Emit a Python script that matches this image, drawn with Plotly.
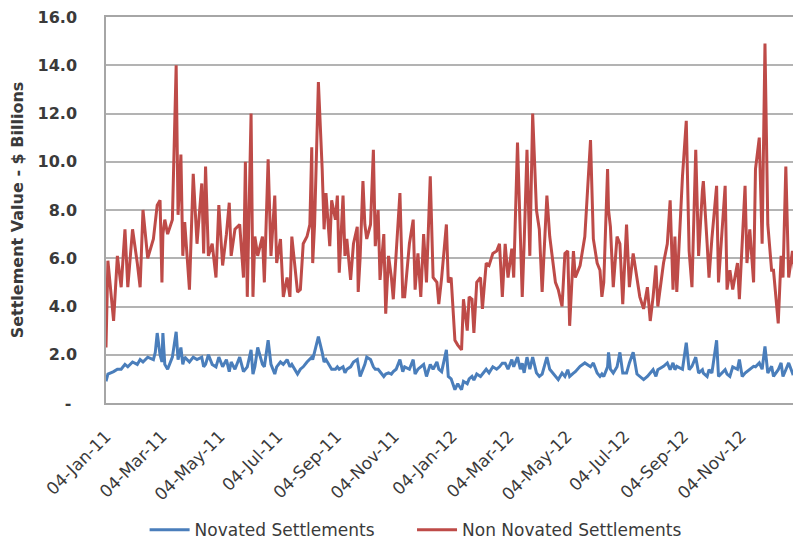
import plotly.graph_objects as go

dates = [
    "2011-01-04", "2011-01-06", "2011-01-12", "2011-01-16", "2011-01-20", "2011-01-24", "2011-01-27",
    "2011-02-01", "2011-02-06", "2011-02-09", "2011-02-12", "2011-02-17", "2011-02-23", "2011-02-25", "2011-02-27",
    "2011-03-02", "2011-03-04", "2011-03-05", "2011-03-07", "2011-03-10", "2011-03-15", "2011-03-19", "2011-03-21",
    "2011-03-24", "2011-03-26", "2011-03-28",
    "2011-04-02", "2011-04-06", "2011-04-10", "2011-04-15", "2011-04-17", "2011-04-19", "2011-04-22", "2011-04-26", "2011-04-30",
    "2011-05-03", "2011-05-07", "2011-05-11", "2011-05-14", "2011-05-16", "2011-05-20", "2011-05-25", "2011-05-29", "2011-05-31",
    "2011-06-02", "2011-06-06", "2011-06-08", "2011-06-10", "2011-06-13", "2011-06-18", "2011-06-20", "2011-06-24", "2011-06-27",
    "2011-07-01", "2011-07-03", "2011-07-07", "2011-07-10", "2011-07-14", "2011-07-17", "2011-07-19", "2011-07-25", "2011-07-28", "2011-07-31",
    "2011-08-04", "2011-08-07", "2011-08-09", "2011-08-10", "2011-08-12", "2011-08-16", "2011-08-20", "2011-08-22", "2011-08-24", "2011-08-28", "2011-08-30",
    "2011-09-03", "2011-09-05", "2011-09-07", "2011-09-11", "2011-09-13", "2011-09-15", "2011-09-19", "2011-09-22", "2011-09-26", "2011-09-27", "2011-09-29",
    "2011-10-02", "2011-10-04", "2011-10-06", "2011-10-10", "2011-10-13", "2011-10-15", "2011-10-18", "2011-10-20", "2011-10-24", "2011-10-26", "2011-10-29",
    "2011-11-01", "2011-11-03", "2011-11-06", "2011-11-10", "2011-11-13", "2011-11-15", "2011-11-20", "2011-11-24", "2011-11-26", "2011-11-29",
    "2011-12-02", "2011-12-05", "2011-12-08", "2011-12-12", "2011-12-15", "2011-12-19", "2011-12-21", "2011-12-24", "2011-12-29", "2011-12-31",
    "2012-01-03", "2012-01-07", "2012-01-10", "2012-01-14", "2012-01-16", "2012-01-20", "2012-01-22", "2012-01-25", "2012-01-27", "2012-01-30",
    "2012-02-03", "2012-02-05", "2012-02-09", "2012-02-12", "2012-02-16", "2012-02-20", "2012-02-23", "2012-02-26", "2012-02-29",
    "2012-03-03", "2012-03-07", "2012-03-09", "2012-03-13", "2012-03-16", "2012-03-18", "2012-03-20", "2012-03-23", "2012-03-26", "2012-03-29",
    "2012-04-02", "2012-04-05", "2012-04-08", "2012-04-13", "2012-04-16", "2012-04-22", "2012-04-25", "2012-04-29",
    "2012-05-02", "2012-05-05", "2012-05-07", "2012-05-11", "2012-05-13", "2012-05-18", "2012-05-23", "2012-05-29",
    "2012-06-01", "2012-06-05", "2012-06-08", "2012-06-10", "2012-06-12", "2012-06-16", "2012-06-17", "2012-06-19", "2012-06-22", "2012-06-26", "2012-06-29",
    "2012-07-02", "2012-07-06", "2012-07-09", "2012-07-13", "2012-07-17", "2012-07-20", "2012-07-24", "2012-07-28", "2012-07-31",
    "2012-08-03", "2012-08-06", "2012-08-08", "2012-08-14", "2012-08-18", "2012-08-21", "2012-08-24", "2012-08-26", "2012-08-28",
    "2012-09-03", "2012-09-07", "2012-09-10", "2012-09-13", "2012-09-17", "2012-09-20", "2012-09-24", "2012-09-25", "2012-09-29",
    "2012-10-01", "2012-10-04", "2012-10-09", "2012-10-11", "2012-10-14", "2012-10-18", "2012-10-20", "2012-10-23", "2012-10-26", "2012-10-31",
    "2012-11-02", "2012-11-05", "2012-11-08", "2012-11-10", "2012-11-13", "2012-11-17", "2012-11-19", "2012-11-23", "2012-11-26", "2012-11-29",
    "2012-12-02", "2012-12-06", "2012-12-08", "2012-12-13", "2012-12-16", "2012-12-18", "2012-12-21", "2012-12-24", "2012-12-28", "2012-12-31",
    "2013-01-02", "2013-01-05",
]

non_novated = [
    2.3, 5.9, 3.4, 6.1, 4.8, 7.2, 4.8,
    7.2, 5.8, 4.8, 8.0, 6.0, 6.8, 7.6, 8.2,
    8.4, 5.0, 7.0, 7.6, 7.0, 7.6, 14.0, 7.8,
    10.3, 6.1, 7.5,
    4.7, 9.5, 6.6, 9.1, 6.2, 9.8, 6.1, 6.6, 5.2,
    8.2, 5.7, 7.0, 8.3, 6.1, 7.2, 7.4, 5.2, 10.0,
    4.4, 12.0, 4.4, 6.9, 6.1, 6.9, 5.0, 10.1, 6.1,
    8.6, 5.8, 6.8, 4.4, 5.2, 4.4, 6.9, 4.6, 4.7, 6.6,
    6.9, 7.4, 10.6, 5.8, 7.4, 13.3, 9.7, 7.2, 8.7, 6.5, 8.4,
    7.6, 8.6, 5.4, 8.6, 6.1, 6.8, 5.1, 6.6, 7.3, 4.6, 6.0,
    9.2, 7.4, 6.8, 7.4, 10.5, 6.5, 8.0, 5.1, 7.0, 3.7, 6.1,
    5.2, 4.3, 6.1, 8.7, 4.4, 4.4, 6.6, 7.6, 4.7, 6.2,
    4.4, 7.0, 5.0, 9.4, 5.2, 5.0, 4.1, 5.2, 7.4, 5.0,
    5.2, 2.6, 2.4, 2.2, 4.3, 3.0, 4.4, 4.3, 2.9, 5.0,
    5.2, 3.9, 5.8, 5.7, 6.2, 6.3, 6.6, 4.4, 6.6,
    5.2, 6.4, 5.2, 10.8, 6.5, 4.4, 6.6, 10.5, 6.1, 12.0,
    8.0, 7.2, 4.6, 8.6, 6.9, 5.0, 4.7, 4.0,
    6.2, 6.3, 3.2, 6.3, 5.2, 5.7, 6.9, 10.9,
    6.8, 5.8, 5.5, 4.4, 5.0, 9.7, 8.0, 7.3, 4.8, 6.9, 6.6,
    4.1, 7.4, 4.8, 6.2, 5.2, 4.4, 3.9, 4.8, 3.4,
    4.4, 5.7, 4.0, 5.8, 6.6, 8.4, 4.7, 6.9, 4.6,
    9.4, 11.7, 6.3, 4.8, 10.5, 6.1, 8.8, 9.2, 6.6,
    5.2, 6.8, 9.0, 5.0, 6.6, 9.0, 4.7, 5.5, 4.7, 5.8,
    4.3, 6.6, 9.0, 5.8, 7.2, 5.0, 9.7, 11.0, 6.6, 14.9,
    7.4, 5.5, 5.5, 3.3, 6.1, 5.2, 9.8, 5.2, 6.3, 5.2,
    7.7, 6.6,
]

novated = [
    0.9, 1.2, 1.3, 1.4, 1.4, 1.6, 1.5,
    1.7, 1.6, 1.8, 1.7, 1.9, 1.8, 2.1, 2.9,
    2.0, 1.7, 2.9, 1.6, 1.4, 1.9, 2.95, 1.8,
    2.3, 1.6, 1.9,
    1.7, 1.9, 1.8, 1.9, 1.5, 1.6, 2.0, 1.6, 1.5,
    1.9, 1.5, 1.8, 1.3, 1.7, 1.4, 1.9, 1.3, 1.4,
    1.5, 2.2, 1.2, 1.5, 2.3, 1.6, 1.5, 2.6, 1.6,
    1.2, 1.5, 1.7, 1.6, 1.8, 1.5, 1.6, 1.2, 1.4, 1.5,
    1.7, 1.8, 1.9, 1.8, 2.1, 2.75, 2.1, 1.7, 1.8, 1.5, 1.4,
    1.4, 1.5, 1.4, 1.5, 1.25, 1.4, 1.5, 1.7, 1.8, 1.5, 1.1,
    1.4, 1.6, 1.9, 1.8, 1.5, 1.4, 1.4, 1.3, 1.1, 1.2, 1.25,
    1.2, 1.3, 1.4, 1.8, 1.3, 1.5, 1.4, 1.8, 1.2, 1.4,
    1.5, 1.6, 1.1, 1.6, 1.4, 1.7, 1.4, 1.3, 2.2, 1.1,
    1.0, 0.55, 0.8, 0.55, 0.9, 0.8, 1.0, 1.1, 0.95, 1.2,
    1.1, 1.2, 1.4, 1.25, 1.5, 1.4, 1.5, 1.65, 1.65,
    1.4, 1.8, 1.5, 1.9, 1.4, 1.65, 1.25, 1.9, 1.4, 1.9,
    1.25, 1.1, 1.2, 1.9, 1.4, 1.1, 0.97, 1.24,
    1.1, 1.38, 1.1, 1.24, 1.3, 1.52, 1.66, 1.5,
    1.66, 1.24, 1.1, 1.2, 1.1, 1.5, 2.1, 1.4, 1.24, 1.5, 2.1,
    1.24, 1.24, 1.66, 2.1, 1.2, 1.1, 0.97, 1.1, 1.24,
    1.38, 1.1, 1.38, 1.52, 1.66, 1.38, 1.66, 1.38, 1.52,
    1.4, 2.5, 1.38, 1.52, 1.9, 1.24, 1.38, 1.24, 1.1,
    1.38, 1.24, 2.6, 1.1, 1.24, 1.38, 1.2, 1.1, 1.5, 1.4,
    1.8, 1.1, 1.24, 1.3, 1.38, 1.52, 1.5, 1.66, 1.4, 2.35,
    1.24, 1.52, 1.1, 1.38, 1.66, 1.1, 1.38, 1.66, 1.24, 1.38,
    1.3, 1.4,
]

x_tick_dates = ["2011-01-04", "2011-03-04", "2011-05-04", "2011-07-04", "2011-09-04", "2011-11-04",
                "2012-01-04", "2012-03-04", "2012-05-04", "2012-07-04", "2012-09-04", "2012-11-04"]
x_tick_labels = ["04-Jan-11", "04-Mar-11", "04-May-11", "04-Jul-11", "04-Sep-11", "04-Nov-11",
                 "04-Jan-12", "04-Mar-12", "04-May-12", "04-Jul-12", "04-Sep-12", "04-Nov-12"]
y_tick_vals = [0, 2, 4, 6, 8, 10, 12, 14, 16]
y_tick_labels = ["-\u00a0", "2.0", "4.0", "6.0", "8.0", "10.0", "12.0", "14.0", "16.0"]
series_names = ["Novated Settlements", "Non Novated Settlements"]

FONT = "DejaVu Sans"
TEXT = "#3a3a3a"
fig = go.Figure()
fig.add_trace(go.Scatter(x=dates, y=novated, mode="lines",
                         name=series_names[0] + "\u00a0" * 6,
                         line=dict(color="#4a7ebb", width=3)))
fig.add_trace(go.Scatter(x=dates, y=non_novated, mode="lines", name=series_names[1],
                         line=dict(color="#be4b48", width=3)))

fig.update_layout(
    width=793, height=534,
    margin=dict(l=98, r=0, t=9, b=139),
    paper_bgcolor="white", plot_bgcolor="white",
    font=dict(family=FONT, color=TEXT),
    showlegend=True,
    legend=dict(orientation="h", xref="container", yref="container", x=0.514, y=0.022,
                xanchor="center", yanchor="middle", font=dict(size=17, color=TEXT),
                itemwidth=40, tracegroupgap=0),
    xaxis=dict(
        type="date", range=["2011-01-04", "2013-01-06"], automargin=False,
        tickvals=x_tick_dates, ticktext=x_tick_labels, tickangle=-45,
        tickfont=dict(size=17, color=TEXT),
        showgrid=False, zeroline=False,
        showline=True, linecolor="#a6a6a6", linewidth=1.5, mirror=True,
        ticks="", ticklabelstandoff=15,
    ),
    yaxis=dict(
        range=[0, 16], tickvals=y_tick_vals, ticktext=y_tick_labels, automargin=False,
        tickfont=dict(size=16, color=TEXT, weight="bold"),
        ticklabeloverflow="allow",
        showgrid=True, gridcolor="#b3b3b3", gridwidth=1.5,
        zeroline=False, showline=True, linecolor="#a6a6a6", linewidth=1.5, mirror=True,
        ticks="", ticklabelstandoff=24,
        title=dict(text="Settlement Value - $ Billions", standoff=12,
                   font=dict(size=16, color=TEXT, weight="bold")),
    ),
)

fig.write_html("out.html")
